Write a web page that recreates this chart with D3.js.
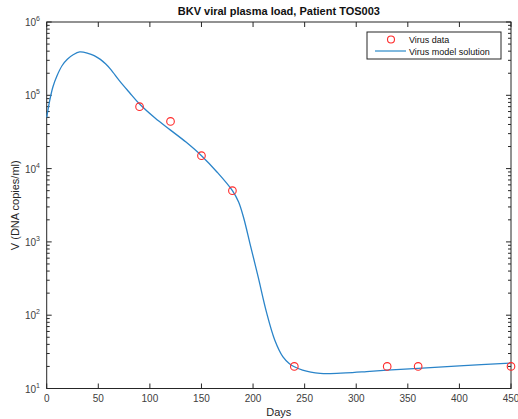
<!DOCTYPE html>
<html><head><meta charset="utf-8">
<script src="https://cdn.jsdelivr.net/npm/d3@7"></script>
<style>body{margin:0;background:#fff}svg{font-family:"Liberation Sans",Arial,sans-serif}</style>
</head><body><svg id="c" width="518" height="419"></svg>
<script>
const dataDays = [90, 120, 150, 180, 240, 330, 360, 450];
const dataV = [7e4, 4.4e4, 1.5e4, 5e3, 20, 20, 20, 20];
const modelDays = [0, 3, 6, 10, 15, 20, 26, 32, 40, 46, 52, 57, 62, 71, 80, 90, 105, 120, 135, 150, 165, 180, 186, 191, 197, 205, 213, 221, 229, 235, 240, 248, 256, 265, 275, 290, 310, 330, 360, 400, 450];
const modelV = [5.0e4, 8.6e4, 1.3e5, 1.85e5, 2.55e5, 3.1e5, 3.6e5, 3.9e5, 3.74e5, 3.48e5, 3.09e5, 2.69e5, 2.26e5, 1.55e5, 1.1e5, 7.6e4, 4.9e4, 3.35e4, 2.3e4, 1.5e4, 9.0e3, 5.0e3, 3.5e3, 2.1e3, 950, 330, 110, 46, 27, 22, 19.8, 17.8, 16.7, 16.1, 16.0, 16.3, 17.0, 17.8, 18.8, 20.3, 22.3];
const xTicks = [0, 50, 100, 150, 200, 250, 300, 350, 400, 450];
const yExps = [1, 2, 3, 4, 5, 6];
const titleText = "BKV viral plasma load, Patient TOS003";
const xLabel = "Days";
const yLabel = "V (DNA copies/ml)";
const legendLabels = ["Virus data", "Virus model solution"];

const svg = d3.select("#c");
const L = 46.7, R = 511, T = 22, B = 388.5;
const x = d3.scaleLinear().domain([0, 450]).range([L, R]);
const y = d3.scaleLog().domain([10, 1e6]).range([B, T]);
const axisCol = "#262626", tickTxt = "#404040";

svg.append("rect").attr("x", L).attr("y", T).attr("width", R - L).attr("height", B - T)
  .attr("fill", "none").attr("stroke", axisCol).attr("stroke-width", 1);

const g = svg.append("g").attr("stroke", axisCol).attr("stroke-width", 1);
xTicks.forEach(t => {
  g.append("line").attr("x1", x(t)).attr("x2", x(t)).attr("y1", B).attr("y2", B - 5);
  g.append("line").attr("x1", x(t)).attr("x2", x(t)).attr("y1", T).attr("y2", T + 5);
});
yExps.forEach(e => {
  const v = Math.pow(10, e);
  g.append("line").attr("x1", L).attr("x2", L + 5).attr("y1", y(v)).attr("y2", y(v));
  g.append("line").attr("x1", R).attr("x2", R - 5).attr("y1", y(v)).attr("y2", y(v));
  if (e < 6) for (let m = 2; m <= 9; m++) {
    const mv = m * v;
    g.append("line").attr("x1", L).attr("x2", L + 3).attr("y1", y(mv)).attr("y2", y(mv));
    g.append("line").attr("x1", R).attr("x2", R - 3).attr("y1", y(mv)).attr("y2", y(mv));
  }
});

svg.append("g").selectAll("text").data(xTicks).join("text")
  .attr("x", d => x(d)).attr("y", 402).attr("text-anchor", "middle")
  .attr("font-size", 10).attr("fill", tickTxt).text(d => d);
const yl = svg.append("g").selectAll("text").data(yExps).join("text")
  .attr("x", 40).attr("y", d => y(Math.pow(10, d)) + 4).attr("text-anchor", "end")
  .attr("font-size", 10).attr("fill", tickTxt);
yl.append("tspan").text("10");
yl.append("tspan").attr("dy", -5).attr("font-size", 7).text(d => d);

const line = d3.line().x((d, i) => x(modelDays[i])).y(d => y(d)).curve(d3.curveCatmullRom.alpha(0.5));
svg.append("path").datum(modelV).attr("d", line).attr("fill", "none")
  .attr("stroke", "#2a84c9").attr("stroke-width", 1.3);

svg.append("g").selectAll("circle").data(dataV).join("circle")
  .attr("cx", (d, i) => x(dataDays[i])).attr("cy", d => y(d)).attr("r", 3.8)
  .attr("fill", "none").attr("stroke", "#ff2a2a").attr("stroke-width", 1.1);

svg.append("text").attr("x", (L + R) / 2).attr("y", 15).attr("text-anchor", "middle")
  .attr("font-size", 11).attr("font-weight", "bold").attr("fill", "#111").text(titleText);
svg.append("text").attr("x", (L + R) / 2).attr("y", 416).attr("text-anchor", "middle")
  .attr("font-size", 11).attr("fill", "#262626").text(xLabel);
svg.append("text").attr("transform", `translate(19,${(T + B) / 2}) rotate(-90)`).attr("text-anchor", "middle")
  .attr("font-size", 11).attr("fill", "#262626").text(yLabel);

const lg = svg.append("g");
lg.append("rect").attr("x", 367).attr("y", 32).attr("width", 134).attr("height", 27)
  .attr("fill", "#fff").attr("stroke", axisCol).attr("stroke-width", 1);
lg.append("circle").attr("cx", 391).attr("cy", 39.5).attr("r", 3.5).attr("fill", "none")
  .attr("stroke", "#ff2a2a").attr("stroke-width", 1.1);
lg.append("line").attr("x1", 375).attr("x2", 406).attr("y1", 51).attr("y2", 51)
  .attr("stroke", "#0072bd").attr("stroke-width", 1);
lg.selectAll("text").data(legendLabels).join("text")
  .attr("x", 409).attr("y", (d, i) => 43 + i * 11.5).attr("font-size", 9).attr("fill", "#111").text(d => d);
</script></body></html>
